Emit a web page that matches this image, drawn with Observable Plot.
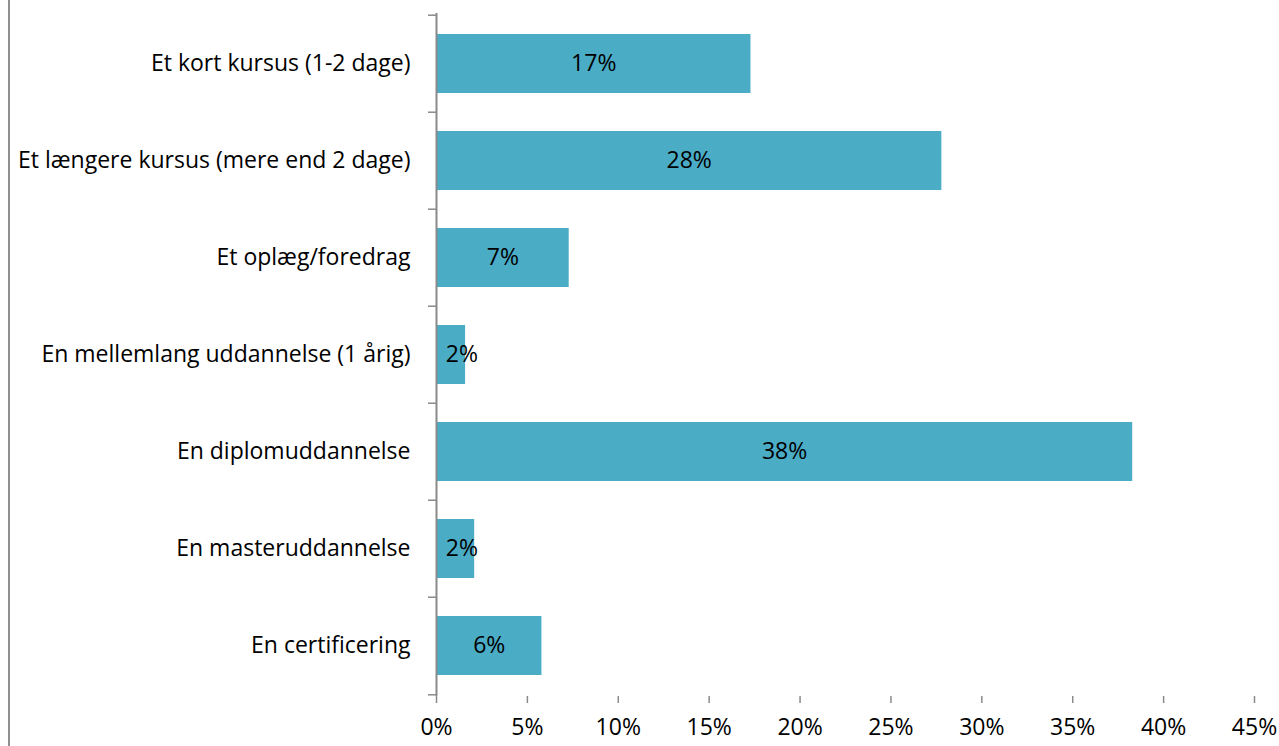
<!DOCTYPE html>
<html>
<head>
<meta charset="utf-8">
<script src="https://cdn.jsdelivr.net/npm/d3@7"></script>
<script src="https://cdn.jsdelivr.net/npm/@observablehq/plot@0.6"></script>
<style>
  html, body { margin: 0; padding: 0; background: #fff; }
  #wrap { position: relative; width: 1279px; height: 746px; overflow: hidden; }
  #frame { position: absolute; left: 8px; top: 0; width: 2px; height: 746px; background: #8f8f8f; }
  #chart { position: absolute; left: 0; top: 0; }
</style>
</head>
<body>
<div id="wrap"><div id="chart"></div><div id="frame"></div></div>
<script>
const categories = [
  "Et kort kursus (1-2 dage)",
  "Et længere kursus (mere end 2 dage)",
  "Et oplæg/foredrag",
  "En mellemlang uddannelse (1 årig)",
  "En diplomuddannelse",
  "En masteruddannelse",
  "En certificering"
];
const values = [17.3, 27.8, 7.3, 1.6, 38.3, 2.1, 5.8];
const labels = ["17%", "28%", "7%", "2%", "38%", "2%", "6%"];
const xTicks = [0, 5, 10, 15, 20, 25, 30, 35, 40, 45];

const data = categories.map((c, i) => ({cat: c, value: values[i], label: labels[i]}));

const W = 1279, H = 746, mT = 13, mB = 50, mL = 436, mR = 25;
const step = (H - mT - mB) / categories.length;
const axisColor = "#8a8a8a";
const font = "'Open Sans', sans-serif";
const fs = 23;

const chart = Plot.plot({
  width: W, height: H,
  marginTop: mT, marginBottom: mB, marginLeft: mL, marginRight: mR,
  style: {fontFamily: font, fontSize: fs + "px", color: "#000", background: "transparent"},
  x: {domain: [0, 45], ticks: xTicks, tickFormat: d => d + "%", line: true, label: null},
  y: {domain: categories, padding: 0, label: null},
  marks: [
    Plot.barX(data, {x: "value", y: "cat", fill: "#4BACC6", insetTop: 19, insetBottom: 19}),
    Plot.axisX({ticks: xTicks, tickFormat: d => d + "%", tickSize: 7, tickPadding: 15, stroke: axisColor, strokeWidth: 1.5, fill: "#000", fontSize: fs, label: null}),
    Plot.axisY({tickSize: 0, tickPadding: 26, fill: "#000", fontSize: fs, label: null}),
    Plot.ruleX([0], {stroke: axisColor, strokeWidth: 2}),
    Plot.ruleY(categories, {y: d => d, x1: 0, x2: 0, insetLeft: -8, dy: -step / 2, stroke: axisColor, strokeWidth: 1.5}),
    Plot.ruleY([categories[categories.length - 1]], {y: d => d, x1: 0, x2: 0, insetLeft: -8, dy: step / 2, stroke: axisColor, strokeWidth: 1.5}),
    Plot.text(data, {x: d => Math.max(d.value / 2, 1.4), y: "cat", text: "label", fill: "#000", fontSize: fs})
  ]
});
document.getElementById("chart").appendChild(chart);
</script>
</body>
</html>
